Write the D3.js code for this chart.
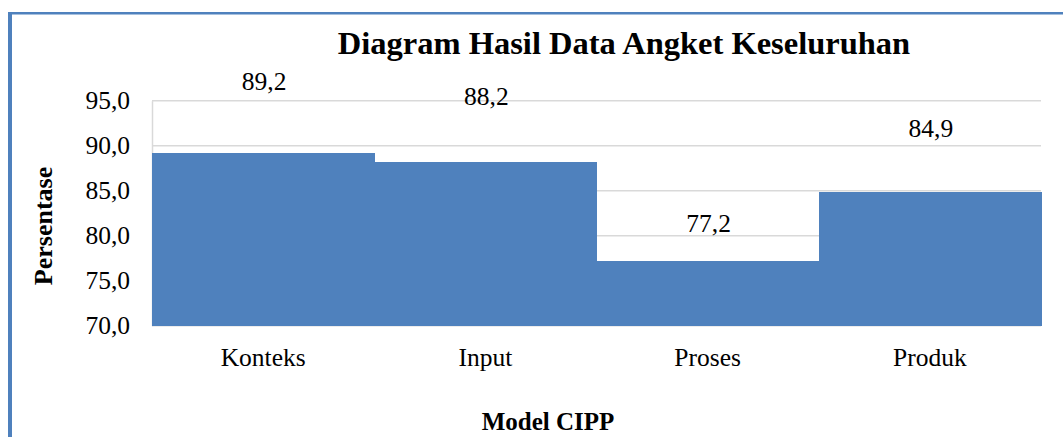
<!DOCTYPE html>
<html>
<head>
<meta charset="utf-8">
<script src="https://cdn.jsdelivr.net/npm/d3@7"></script>
<style>
  html, body { margin: 0; padding: 0; background: #fff; }
  svg { display: block; font-family: "Liberation Serif", "Times New Roman", serif; }
</style>
</head>
<body>
<div id="chart"></div>
<script>
// data
var categories = ['Konteks', 'Input', 'Proses', 'Produk'];
var values = [89.2, 88.2, 77.2, 84.9];
var yTicks = [70, 75, 80, 85, 90, 95];

var width = 1063, height = 437;
var margin = { left: 152, right: 22, top: 100.7, bottom: 111.3 };

var svg = d3.select('#chart').append('svg')
    .attr('width', width)
    .attr('height', height);

// frame (blue edge at top and left)
svg.append('rect')
    .attr('x', 8).attr('y', 12)
    .attr('width', 4).attr('height', height - 12)
    .attr('fill', '#4F81BD');
svg.append('rect')
    .attr('x', 8).attr('y', 12)
    .attr('width', width - 8).attr('height', 2.5)
    .attr('fill', '#4F81BD');

var x = d3.scaleBand()
    .domain(categories)
    .range([margin.left, width - margin.right])
    .padding(0);

var y = d3.scaleLinear()
    .domain([70, 95])
    .range([height - margin.bottom, margin.top]);

var fmt = function(v) { return d3.format('.1f')(v).replace('.', ','); };

// gridlines
svg.append('g')
    .selectAll('line')
    .data(yTicks)
    .enter()
    .append('line')
    .attr('x1', margin.left)
    .attr('x2', width - margin.right)
    .attr('y1', function(d) { return y(d); })
    .attr('y2', function(d) { return y(d); })
    .attr('stroke', '#d9d9d9')
    .attr('stroke-width', 1.5);

// y axis
var yAxis = svg.append('g')
    .attr('transform', 'translate(' + margin.left + ',0)')
    .call(d3.axisLeft(y).tickValues(yTicks).tickFormat(fmt).tickSize(0).tickPadding(22));
yAxis.select('.domain').attr('stroke', '#d9d9d9').attr('stroke-width', 1.5);
yAxis.selectAll('text')
    .attr('fill', '#000')
    .style('font-family', '"Liberation Serif", serif')
    .style('font-size', '25.5px');

// bars
svg.append('g')
    .attr('shape-rendering', 'crispEdges')
    .selectAll('rect')
    .data(values)
    .enter()
    .append('rect')
    .attr('x', function(d, i) { return x(categories[i]); })
    .attr('y', function(d) { return y(d); })
    .attr('width', x.bandwidth() + 0.5)
    .attr('height', function(d) { return y(70) - y(d); })
    .attr('fill', '#4F81BD');

// data labels sit at hand-moved heights in the original
var labelLift = [63, 57, 29, 55];
svg.append('g')
    .selectAll('text')
    .data(values)
    .enter()
    .append('text')
    .attr('x', function(d, i) { return x(categories[i]) + x.bandwidth() / 2 + 1; })
    .attr('y', function(d, i) { return y(d) - labelLift[i]; })
    .attr('text-anchor', 'middle')
    .style('font-size', '25.5px')
    .text(fmt);

// x axis labels
var xAxis = svg.append('g')
    .attr('transform', 'translate(0,' + y(70) + ')')
    .call(d3.axisBottom(x).tickSize(0).tickPadding(22));
xAxis.select('.domain').remove();
xAxis.selectAll('text')
    .attr('fill', '#000')
    .style('font-family', '"Liberation Serif", serif')
    .style('font-size', '25.5px');

// titles
svg.append('text')
    .attr('x', 624).attr('y', 54)
    .attr('text-anchor', 'middle')
    .style('font-size', '32.5px')
    .style('font-weight', 'bold')
    .text('Diagram Hasil Data Angket Keseluruhan');

svg.append('text')
    .attr('x', 548).attr('y', 430)
    .attr('text-anchor', 'middle')
    .style('font-size', '25px')
    .style('font-weight', 'bold')
    .text('Model CIPP');

svg.append('text')
    .attr('transform', 'translate(52,226) rotate(-90)')
    .attr('text-anchor', 'middle')
    .style('font-size', '26px')
    .style('font-weight', 'bold')
    .text('Persentase');
</script>
</body>
</html>
